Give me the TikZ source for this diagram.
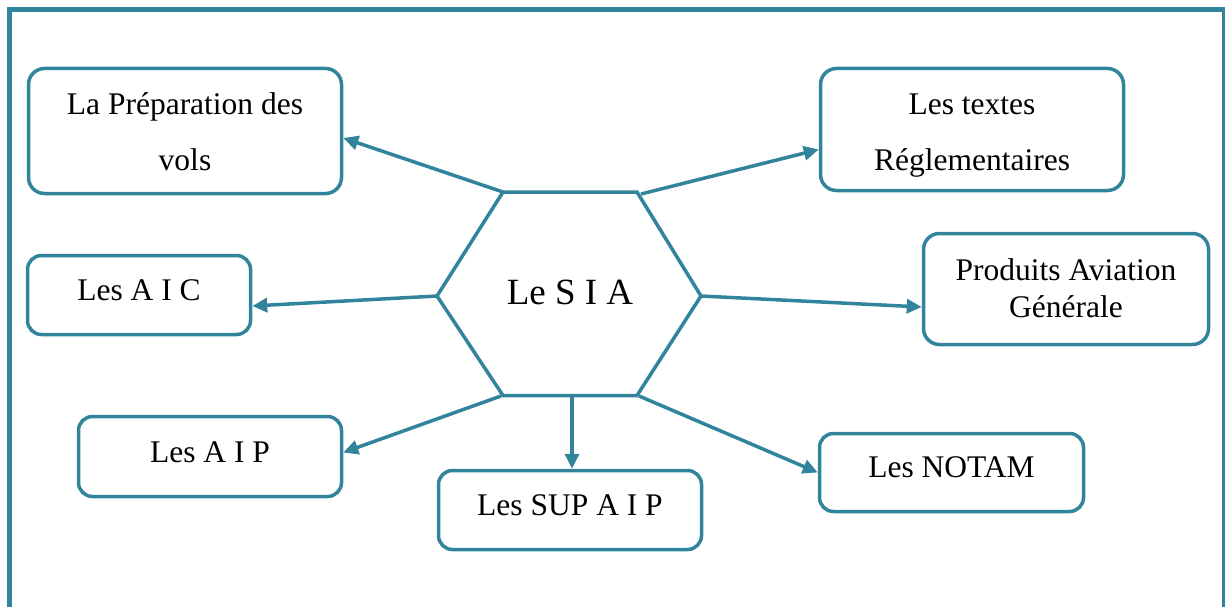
\documentclass[tikz,border=0pt]{standalone}
\usepackage{fontspec}
\setmainfont{Liberation Serif}
\usetikzlibrary{arrows.meta,calc}
\definecolor{tealc}{HTML}{31849B}
\begin{document}
\begin{tikzpicture}[x=1pt,y=-1pt,
  box/.style={draw=tealc, line width=3.5pt, rounded corners=16pt, inner sep=0pt},
  lbl/.style={font=\fontsize{31.5}{36}\selectfont, anchor=base, inner sep=0pt},
  hexlbl/.style={font=\fontsize{37}{42}\selectfont, anchor=base, inner sep=0pt},
  arr/.style={draw=tealc, line width=3.5pt, -{Triangle[length=15pt,width=14pt]}},
  frame/.style={draw=tealc}]
\useasboundingbox (0,0) rectangle (1225,607);
% frame
\draw[frame, line width=5pt] (9,607) -- (9,9.5) -- (1225,9.5);
\draw[frame, line width=2.5pt] (1223.5,9.5) -- (1223.5,607);
% boxes
\node[box, minimum width=313pt, minimum height=125pt] (b1) at (185,131) {};
\node[box, minimum width=303pt, minimum height=122pt] (b2) at (972,129.5) {};
\node[box, minimum width=223pt, minimum height=79pt, rounded corners=14pt] (b3) at (139,295) {};
\node[box, minimum width=285pt, minimum height=111pt] (b4) at (1066,289) {};
\node[box, minimum width=263pt, minimum height=80pt, rounded corners=14pt] (b5) at (210,456.5) {};
\node[box, minimum width=263pt, minimum height=79pt, rounded corners=14pt] (b6) at (570,510) {};
\node[box, minimum width=264pt, minimum height=78pt, rounded corners=14pt] (b7) at (951.5,472.5) {};
% labels
\node[lbl] (t1a) at (185,115) {La Préparation des};
\node[lbl] (t1b) at (185,170) {vols};
\node[lbl] (t2a) at (972,115) {Les textes};
\node[lbl] (t2b) at (972,170) {Réglementaires};
\node[lbl] (t3) at (139,300) {Les A I C};
\node[lbl] (t4a) at (1066,280) {Produits Aviation};
\node[lbl] (t4b) at (1066,317) {Générale};
\node[lbl] (t5) at (210,462) {Les A I P};
\node[lbl] (t6) at (570,515) {Les SUP A I P};
\node[lbl] (t7) at (951.5,477) {Les NOTAM};
% hexagon
\coordinate (hTL) at (503,192);
\coordinate (hTR) at (637,192);
\coordinate (hR) at (701,296);
\coordinate (hBR) at (637,395.5);
\coordinate (hBL) at (503,395.5);
\coordinate (hL) at (437,296);
\draw[draw=tealc, line width=3.5pt, line join=miter] (hTL) -- (hTR) -- (hR) -- (hBR) -- (hBL) -- (hL) -- cycle;
\node[hexlbl] (hex) at (570,304) {Le S I A};
% connectors
\coordinate (s2) at (641,194);
\coordinate (s5) at (501,396);
\coordinate (s6) at (572,397);
\coordinate (s7) at (639,396);
\draw[arr] (hTL) -- ($(b1.east)+(0,7)$);
\draw[arr] (s2) -- ($(b2.west)+(0,20)$);
\draw[arr] (hL) -- ($(b3.east)+(0,11)$);
\draw[arr] (hR) -- ($(b4.west)+(0,18)$);
\draw[arr] (s5) -- ($(b5.east)+(0,-4)$);
\draw[arr] (s6) -- (s6 |- b6.north);
\draw[arr] (s7) -- (b7.west);
\end{tikzpicture}
\end{document}
